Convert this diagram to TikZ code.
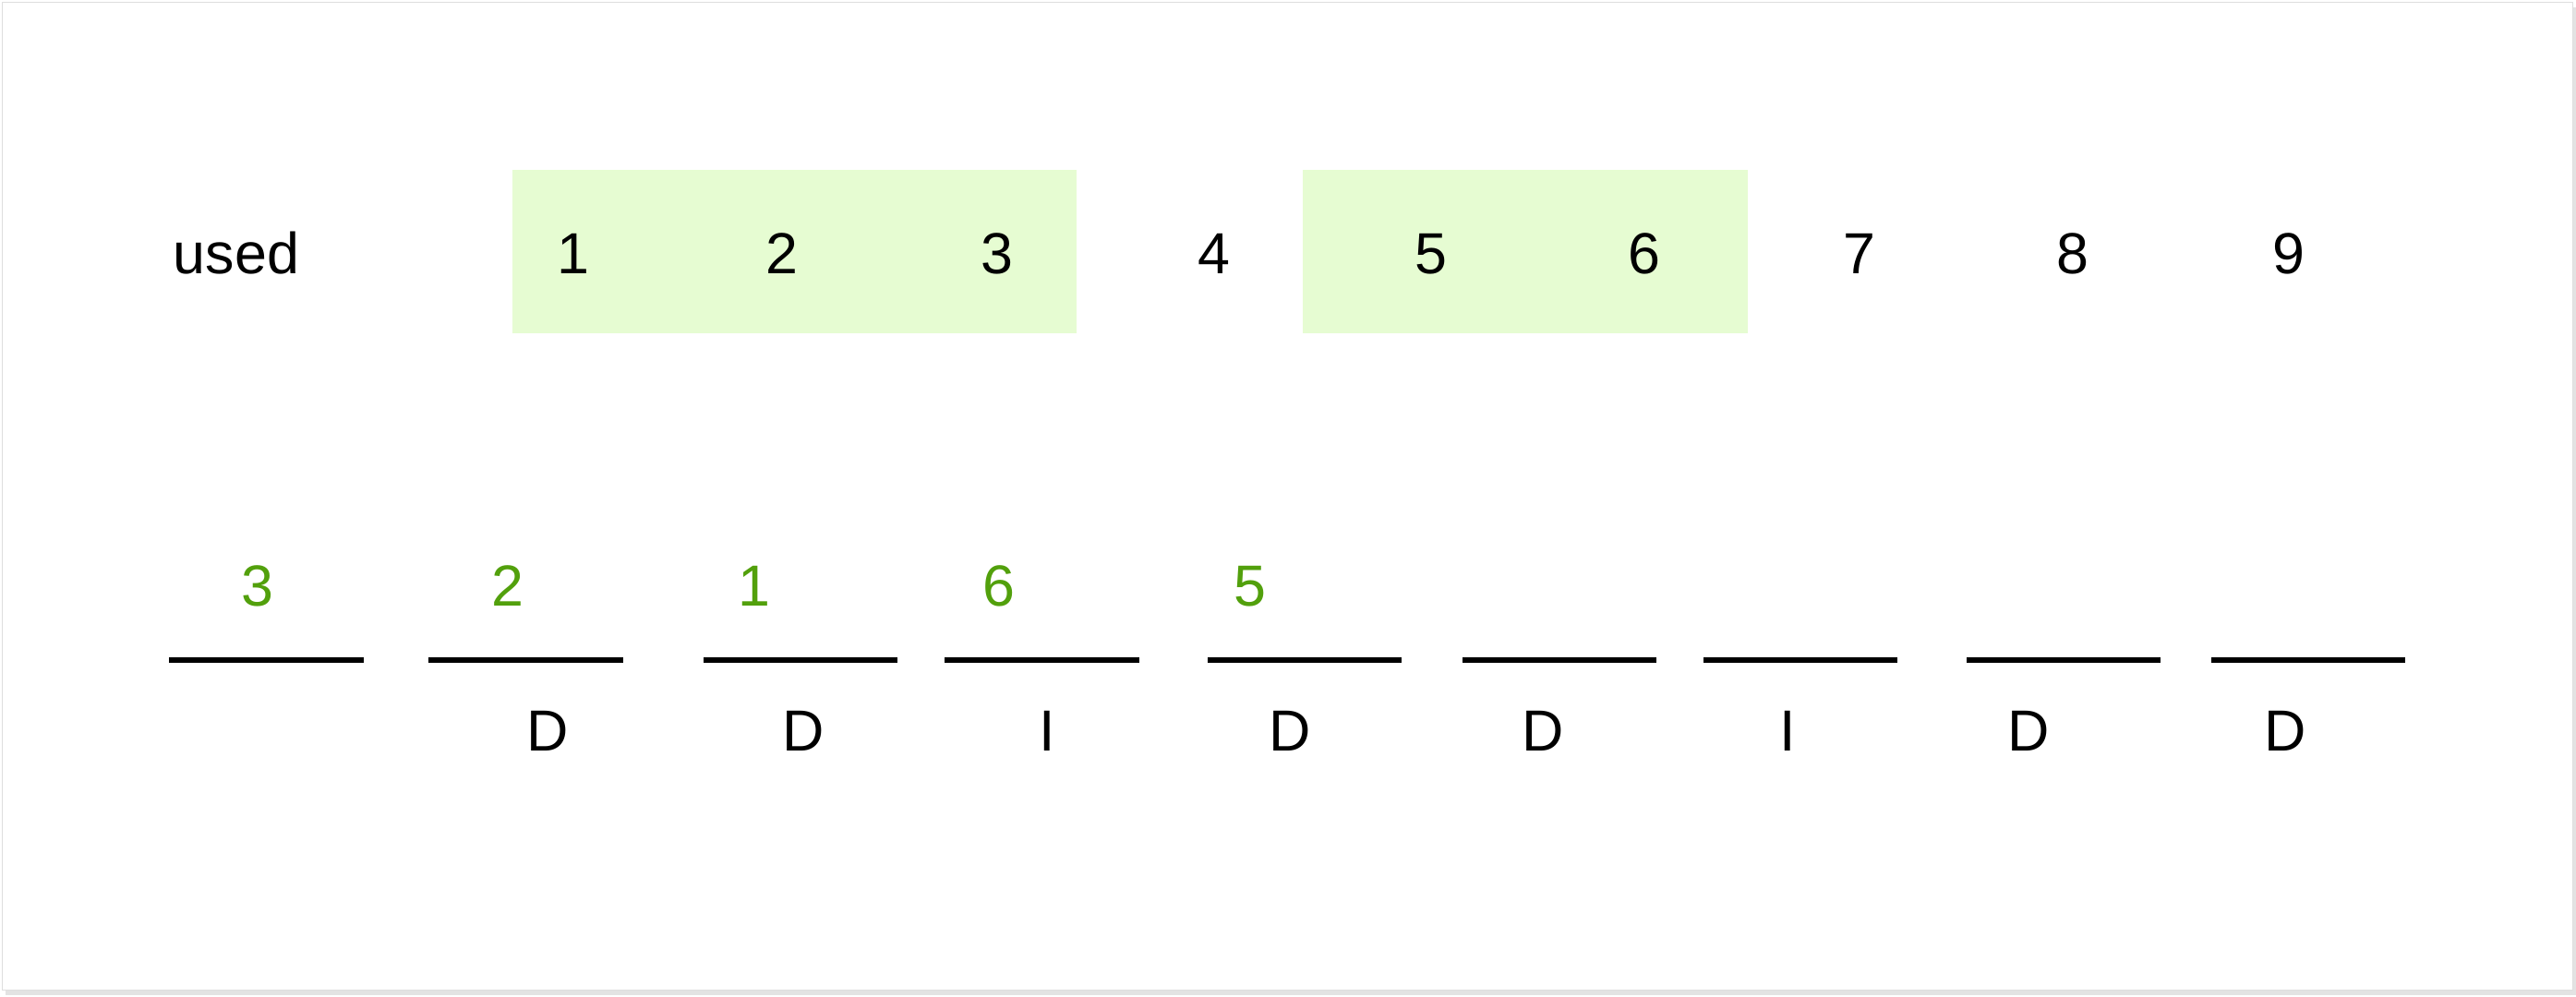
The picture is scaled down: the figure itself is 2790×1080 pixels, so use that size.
\documentclass[tikz,border=0pt]{standalone}
\usepackage{fontspec}
\setmainfont{Liberation Sans}
\definecolor{usedfill}{HTML}{E6FCD2}
\definecolor{usedtxt}{HTML}{52A00C}
\definecolor{frameclr}{HTML}{D0D0D0}
\begin{document}
\begin{tikzpicture}[x=0.5pt,y=-0.5pt,
  lbl/.style={anchor=base,inner sep=0pt,font=\fontsize{31.4}{36}\selectfont},
  grn/.style={lbl,text=usedtxt},
  slot/.style={line width=3pt},
  hl/.style={fill=usedfill,draw=none}]
\useasboundingbox (0,0) rectangle (2790,1080);
% card
\fill[frameclr!60] (6,8) rectangle (2790,1078);
\fill[white,draw=frameclr!70,line width=0.5pt] (2,3) rectangle (2786,1072);
% highlighted ranges
\fill[hl] (555,184) rectangle (1166,361);
\fill[hl] (1411,184) rectangle (1893,361);
% top row
\node[lbl] (used) at (256,297) {used};
\node[lbl] (t1) at (621,297) {1};
\node[lbl] (t2) at (847,297) {2};
\node[lbl] (t3) at (1080,297) {3};
\node[lbl] (t4) at (1315,297) {4};
\node[lbl] (t5) at (1550,297) {5};
\node[lbl] (t6) at (1781,297) {6};
\node[lbl] (t7) at (2014,297) {7};
\node[lbl] (t8) at (2245,297) {8};
\node[lbl] (t9) at (2479,297) {9};
% slots
\coordinate (s1a) at (183,715); \coordinate (s1b) at (394,715);
\coordinate (s2a) at (464,715); \coordinate (s2b) at (675,715);
\coordinate (s3a) at (762,715); \coordinate (s3b) at (972,715);
\coordinate (s4a) at (1023,715); \coordinate (s4b) at (1234,715);
\coordinate (s5a) at (1308,715); \coordinate (s5b) at (1518,715);
\coordinate (s6a) at (1584,715); \coordinate (s6b) at (1794,715);
\coordinate (s7a) at (1845,715); \coordinate (s7b) at (2055,715);
\coordinate (s8a) at (2130,715); \coordinate (s8b) at (2340,715);
\coordinate (s9a) at (2395,715); \coordinate (s9b) at (2605,715);
\draw[slot] (s1a) -- (s1b);
\draw[slot] (s2a) -- (s2b);
\draw[slot] (s3a) -- (s3b);
\draw[slot] (s4a) -- (s4b);
\draw[slot] (s5a) -- (s5b);
\draw[slot] (s6a) -- (s6b);
\draw[slot] (s7a) -- (s7b);
\draw[slot] (s8a) -- (s8b);
\draw[slot] (s9a) -- (s9b);
% filled values
\node[grn] (g1) at (279,656) {3};
\node[grn] (g2) at (550,656) {2};
\node[grn] (g3) at (817,656) {1};
\node[grn] (g4) at (1082,656) {6};
\node[grn] (g5) at (1354,656) {5};
% pattern letters
\node[lbl] (p1) at (593,813) {D};
\node[lbl] (p2) at (870,813) {D};
\node[lbl] (p3) at (1134,813) {I};
\node[lbl] (p4) at (1397,813) {D};
\node[lbl] (p5) at (1671,813) {D};
\node[lbl] (p6) at (1936,813) {I};
\node[lbl] (p7) at (2197,813) {D};
\node[lbl] (p8) at (2475,813) {D};
\end{tikzpicture}
\end{document}
